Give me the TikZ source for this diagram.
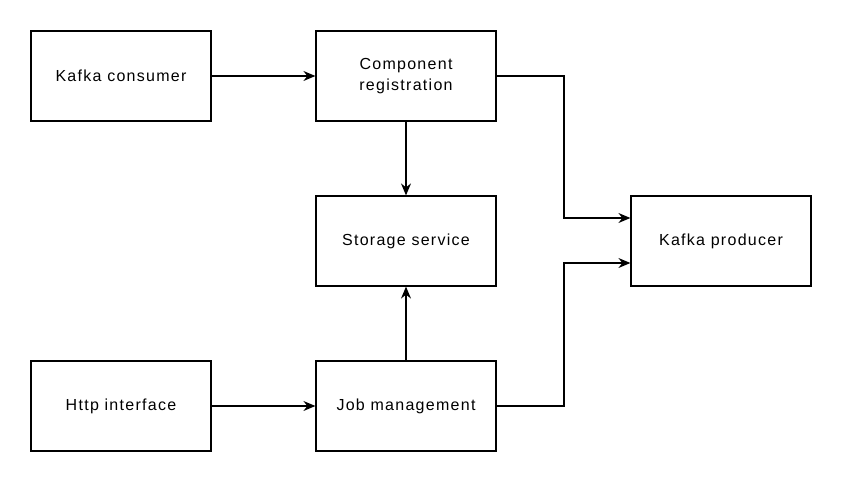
\documentclass[tikz,border=0pt]{standalone}
\usepackage{fontspec}
\setmainfont{Liberation Sans}[LetterSpace=8]
\usetikzlibrary{arrows.meta}
\tikzset{
  block/.style={draw, line width=1.2pt, minimum width=180pt, minimum height=90pt, align=center, font=\fontsize{16}{21}\selectfont},
  link/.style={line width=1.2pt, -{Stealth[length=12pt,width=10pt,inset=4pt]}}
}
\begin{document}
\begin{tikzpicture}[x=1pt, y=-1pt]
  \useasboundingbox (0,0) rectangle (842,482);
  \node [block] (consumer) at (121, 76) {Kafka consumer};
  \node [block] (registration) at (406, 76) {Component\\registration};
  \node [block] (storage) at (406, 241) {Storage service};
  \node [block] (producer) at (721, 241) {Kafka producer};
  \node [block] (http) at (121, 406) {Http interface};
  \node [block] (jobs) at (406, 406) {Job management};
  \coordinate (upper) at (564, 218);
  \coordinate (lower) at (564, 263);
  \draw [link] (consumer) -- (registration);
  \draw [link] (registration) -- (storage);
  \draw [link] (http) -- (jobs);
  \draw [link] (jobs) -- (storage);
  \draw [link] (registration.east) -| (upper) -- (upper -| producer.west);
  \draw [link] (jobs.east) -| (lower) -- (lower -| producer.west);
\end{tikzpicture}
\end{document}
